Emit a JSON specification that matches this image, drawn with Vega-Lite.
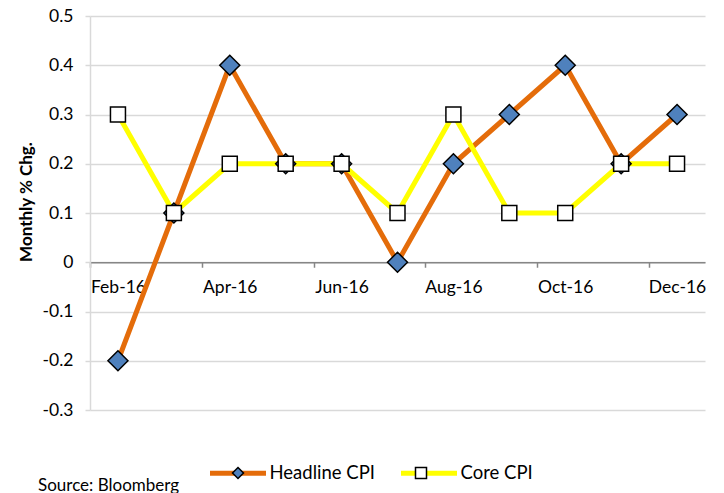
{
  "$schema": "https://vega.github.io/schema/vega-lite/v6.json",
  "width": 615,
  "height": 394,
  "autosize": "none",
  "padding": {"left": 90, "top": 16, "right": 19, "bottom": 83},
  "background": "white",
  "config": {"font": "Lato", "view": {"stroke": null}},
  "title": {"text": "Source: Bloomberg", "orient": "bottom", "anchor": "start", "frame": "group", "fontSize": 17, "fontWeight": "normal", "color": "black", "font": "Lato", "dx": -52, "dy": 7, "offset": 0, "baseline": "alphabetic"},
  "data": {"values": [
    {"month": "Feb-16", "series": "Headline CPI", "value": -0.2},
    {"month": "Mar-16", "series": "Headline CPI", "value": 0.1},
    {"month": "Apr-16", "series": "Headline CPI", "value": 0.4},
    {"month": "May-16", "series": "Headline CPI", "value": 0.2},
    {"month": "Jun-16", "series": "Headline CPI", "value": 0.2},
    {"month": "Jul-16", "series": "Headline CPI", "value": 0.0},
    {"month": "Aug-16", "series": "Headline CPI", "value": 0.2},
    {"month": "Sep-16", "series": "Headline CPI", "value": 0.3},
    {"month": "Oct-16", "series": "Headline CPI", "value": 0.4},
    {"month": "Nov-16", "series": "Headline CPI", "value": 0.2},
    {"month": "Dec-16", "series": "Headline CPI", "value": 0.3},
    {"month": "Feb-16", "series": "Core CPI", "value": 0.3},
    {"month": "Mar-16", "series": "Core CPI", "value": 0.1},
    {"month": "Apr-16", "series": "Core CPI", "value": 0.2},
    {"month": "May-16", "series": "Core CPI", "value": 0.2},
    {"month": "Jun-16", "series": "Core CPI", "value": 0.2},
    {"month": "Jul-16", "series": "Core CPI", "value": 0.1},
    {"month": "Aug-16", "series": "Core CPI", "value": 0.3},
    {"month": "Sep-16", "series": "Core CPI", "value": 0.1},
    {"month": "Oct-16", "series": "Core CPI", "value": 0.1},
    {"month": "Nov-16", "series": "Core CPI", "value": 0.2},
    {"month": "Dec-16", "series": "Core CPI", "value": 0.2}
  ]},
  "encoding": {
    "x": {
      "field": "month", "type": "nominal", "sort": null,
      "scale": {"type": "band", "paddingInner": 0, "paddingOuter": 0,
        "domain": ["Feb-16","Mar-16","Apr-16","May-16","Jun-16","Jul-16","Aug-16","Sep-16","Oct-16","Nov-16","Dec-16"]},
      "axis": {
        "values": ["Feb-16","Apr-16","Jun-16","Aug-16","Oct-16","Dec-16"],
        "offset": -147.75, "title": null, "grid": false, "labelAngle": 0,
        "tickOffset": -27.95, "labelOffset": 27.95,
        "domainColor": "#868686", "domainWidth": 1.5,
        "tickColor": "#868686", "tickWidth": 1.5, "tickSize": 5,
        "labelFontSize": 17.5, "labelColor": "black", "labelPadding": 11
      }
    },
    "y": {
      "field": "value", "type": "quantitative",
      "scale": {"domain": [-0.3, 0.5], "nice": false, "zero": false},
      "axis": {
        "values": [-0.3, -0.2, -0.1, 0, 0.1, 0.2, 0.3, 0.4, 0.5],
        "labelExpr": "datum.value === 0 ? '0' : (datum.value < 0 ? '-' + format(-datum.value, '.1f') : format(datum.value, '.1f'))",
        "grid": true, "gridColor": "#D9D9D9", "gridWidth": 1.5,
        "domainColor": "#D9D9D9", "domainWidth": 1.5,
        "tickColor": "#D9D9D9", "tickWidth": 1.5, "tickSize": 5,
        "labelFontSize": 17.5, "labelColor": "black", "labelPadding": 12,
        "title": "Monthly % Chg.", "titleFontSize": 17, "titleFontWeight": "bold", "titleColor": "black",
        "titleX": -59, "titleY": 185.5, "titleAngle": -90, "titleBaseline": "alphabetic", "titleAlign": "center"
      }
    }
  },
  "layer": [
    {
      "mark": {"type": "line", "strokeWidth": 5, "strokeCap": "round", "strokeJoin": "round"},
      "encoding": {
        "color": {
          "field": "series", "type": "nominal",
          "scale": {"domain": ["Headline CPI", "Core CPI"], "range": ["#E46C0A", "#FFFF00"]},
          "legend": {"orient": "none", "legendX": 117.5, "legendY": 426.5, "direction": "horizontal", "title": null,
            "symbolType": "stroke", "symbolSize": 3136, "symbolStrokeWidth": 5,
            "labelFontSize": 18.5, "labelColor": "black", "labelOffset": 1, "columnPadding": 15}
        }
      }
    },
    {
      "mark": {"type": "point", "filled": true, "stroke": "black", "strokeWidth": 1.5, "opacity": 1},
      "encoding": {
        "fill": {
          "field": "series", "type": "nominal", "sort": "descending",
          "scale": {"range": ["#4F81BD", "#FFFFFF"]},
          "legend": {"orient": "none", "legendX": 117.5, "legendY": 426.5, "direction": "horizontal", "title": null,
            "symbolSize": 3540, "symbolStrokeWidth": 1.5, "symbolStrokeColor": "black", "symbolOpacity": 1,
            "labelFontSize": 18.5, "labelColor": "black", "labelOpacity": 0, "labelOffset": 1, "columnPadding": 15,
            "encode": {"symbols": {"update": {"stroke": {"value": "black"}, "strokeWidth": {"value": 1.5}}}}}
        },
        "shape": {
          "field": "series", "type": "nominal", "sort": "descending",
          "scale": {"range": ["M0,-0.185L0.185,0L0,0.185L-0.185,0Z", "M-0.185,-0.185H0.185V0.185H-0.185Z"]},
          "legend": {"orient": "none", "legendX": 117.5, "legendY": 426.5, "direction": "horizontal", "title": null,
            "symbolSize": 3540, "symbolStrokeWidth": 1.5, "symbolStrokeColor": "black", "symbolOpacity": 1,
            "labelFontSize": 18.5, "labelColor": "black", "labelOpacity": 0, "labelOffset": 1, "columnPadding": 15,
            "encode": {"symbols": {"update": {"stroke": {"value": "black"}, "strokeWidth": {"value": 1.5}}}}}
        },
        "size": {
          "field": "series", "type": "nominal", "sort": "ascending",
          "scale": {"range": [6574, 11688]},
          "legend": null
        }
      }
    }
  ]
}
